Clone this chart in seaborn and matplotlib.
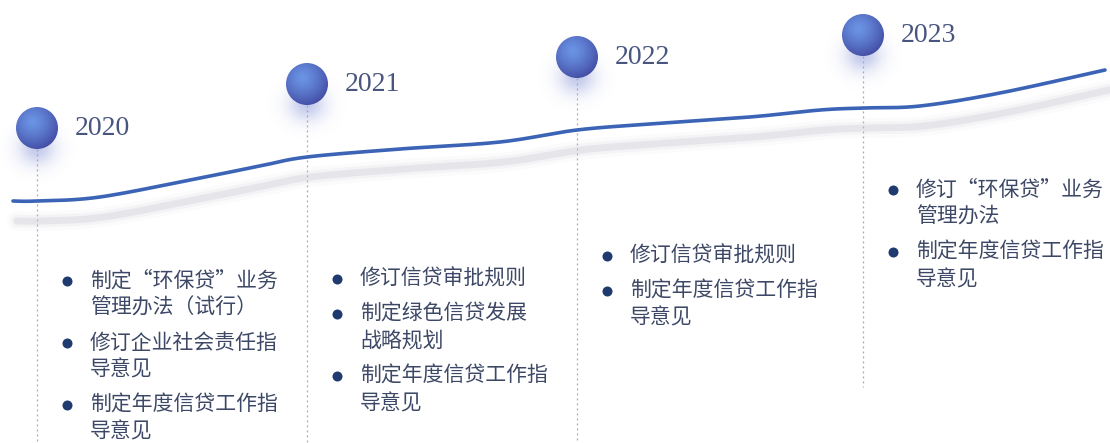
import numpy as np
import matplotlib
matplotlib.use("Agg")
import matplotlib.pyplot as plt
import seaborn as sns
import pandas as pd
from matplotlib.patches import Circle

# ---- data ----
years = ['2020', '2021', '2022', '2023']

events_2020 = ['制定“环保贷”业务\n管理办法（试行）', '修订企业社会责任指\n导意见', '制定年度信贷工作指\n导意见']
events_2021 = ['修订信贷审批规则', '制定绿色信贷发展\n战略规划', '制定年度信贷工作指\n导意见']
events_2022 = ['修订信贷审批规则', '制定年度信贷工作指\n导意见']
events_2023 = ['修订“环保贷”业务\n管理办法', '制定年度信贷工作指\n导意见']
events = [events_2020, events_2021, events_2022, events_2023]

# timeline curve (pixel space of the original picture)
curve_x = [13, 37, 100, 200, 260, 307, 400, 500, 577, 650, 750, 820, 863, 920, 1000, 1105]
curve_y = [201, 201, 197, 178, 166, 157, 149, 142, 130, 124, 117, 110, 108, 106, 93, 70]

# ---- layout ----
W, H = 1110, 443
year_pos = [37, 307, 577, 863]
circle_lift = 73
radius = 21
text_top = [281, 279, 256, 190]
line_bottom = [443, 443, 443, 387]
line_step = 27
item_step = 35


def catmull_rom(xs, ys, n=20):
    p = np.column_stack([xs, ys]).astype(float)
    p = np.vstack([p[0], p, p[-1]])
    out = []
    for k in range(1, len(p) - 2):
        p0, p1, p2, p3 = p[k - 1], p[k], p[k + 1], p[k + 2]
        for t in np.linspace(0, 1, n, endpoint=False):
            t2, t3 = t * t, t * t * t
            out.append(0.5 * ((2 * p1) + (-p0 + p2) * t + (2 * p0 - 5 * p1 + 4 * p2 - p3) * t2
                              + (-p0 + 3 * p1 - 3 * p2 + p3) * t3))
    out.append(p[-2])
    out = np.array(out)
    return out[:, 0], out[:, 1]


sns.set_theme(style='white')
plt.rcParams['font.family'] = ['Noto Sans CJK SC', 'DejaVu Sans']

fig = plt.figure(figsize=(W / 100, H / 100), dpi=100)
ax = fig.add_axes([0, 0, 1, 1])
ax.set_xlim(0, W)
ax.set_ylim(H, 0)
ax.axis('off')

sx, sy = catmull_rom(curve_x, curve_y)
curve = pd.DataFrame({'x': sx, 'y': sy})

# soft grey shadow under the curve
for lw, a in [(14, 0.06), (9, 0.12), (5, 0.28)]:
    sns.lineplot(data=curve.assign(x=curve.x + 4, y=curve.y + 20), x='x', y='y', ax=ax,
                 color='#c4c4cc', lw=lw, alpha=a, sort=False, estimator=None)
# main blue curve
sns.lineplot(data=curve, x='x', y='y', ax=ax, color='#3b63b6', lw=2.6,
             sort=False, estimator=None)

gy, gx = np.mgrid[-1:1:96j, -1:1:96j]


def draw_ball(cx, cy):
    # glow hugging the lower half of the ball
    ext = 42
    yy, xx = np.mgrid[-1:1:120j, -1:1:120j]
    glow = np.exp(-((xx / 0.55) ** 2 + (yy / 0.5) ** 2) * 1.6)
    img = np.zeros((120, 120, 4))
    img[..., 0], img[..., 1], img[..., 2] = 0.58, 0.62, 0.86
    img[..., 3] = glow * 0.55
    gc = cy + 20
    ax.imshow(img, extent=[cx - ext, cx + ext, gc + ext, gc - ext], zorder=2,
              interpolation='bilinear')

    # shaded sphere
    d = np.sqrt((gx + 0.2) ** 2 + (gy + 0.3) ** 2)
    t = np.clip(d / 1.45, 0, 1)[..., None] ** 1.3
    light = np.array([0.42, 0.58, 0.90])
    dark = np.array([0.25, 0.28, 0.62])
    rgb = light * (1 - t) + dark * t
    circ = Circle((cx, cy), radius, transform=ax.transData, facecolor='none', edgecolor='none')
    ax.add_patch(circ)
    im = ax.imshow(rgb, extent=[cx - radius, cx + radius, cy + radius, cy - radius],
                   zorder=4, interpolation='bilinear')
    im.set_clip_path(circ)


for i, yr in enumerate(years):
    cx = year_pos[i]
    cy = np.interp(cx, curve_x, curve_y) - circle_lift

    # dotted drop line
    ax.plot([cx, cx], [cy + radius, line_bottom[i]], color='#a9a9b0', lw=0.9,
            ls=(0, (1.5, 2.5)), zorder=1)
    draw_ball(cx, cy)

    ax.text(cx + 38, cy, yr, fontsize=20, family=['Liberation Serif'], color='#48557e',
            va='center', ha='left', zorder=5)

    # bullet list
    y = text_top[i]
    for item in events[i]:
        lines = item.split('\n')
        ax.scatter([cx + 30], [y], s=52, color='#1f3a6e', zorder=5, linewidths=0)
        for j, ln in enumerate(lines):
            ax.text(cx + 53, y + j * line_step, ln, fontsize=15, color='#3d4866',
                    va='center', ha='left', zorder=5)
        y += (len(lines) - 1) * line_step + item_step

fig.savefig('out.png', dpi=100)
